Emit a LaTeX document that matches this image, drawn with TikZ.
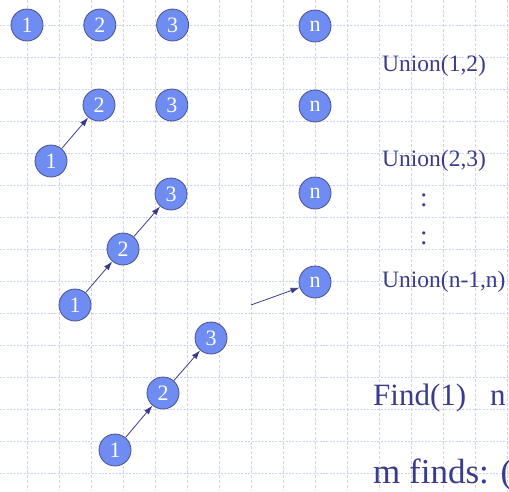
\documentclass[tikz,border=0pt]{standalone}
\usepackage{fontspec}
\setmainfont{Liberation Serif}
\usepackage{xcolor}
\usetikzlibrary{positioning, arrows.meta}

\definecolor{gridblue}{RGB}{200,212,246}
\definecolor{nodefill}{RGB}{110,140,242}
\definecolor{nodeedge}{RGB}{72,80,140}
\definecolor{textblue}{RGB}{58,60,138}

\begin{document}
\begin{tikzpicture}[
    x=1pt, y=-1pt,
    % Jarak antar node dalam satu baris
    node distance=40pt,
    % Gaya untuk elemen himpunan (lingkaran)
    elem/.style={
        draw=nodeedge,
        circle,
        line width=0.8pt,
        minimum size=32pt,
        inner sep=0pt,
        fill=nodefill,
        text=white,
        font=\fontsize{22}{22}\selectfont
    },
    % Gaya untuk teks operasi
    optext/.style={
        anchor=base west,
        inner sep=0pt,
        text=textblue,
        font=\fontsize{23.5}{23.5}\selectfont
    },
    bigtext/.style={
        optext,
        font=\fontsize{31}{31}\selectfont
    },
    % Gaya untuk garis bantu (grid)
    hgrid/.style={gridblue, line width=1pt, dash pattern=on 2pt off 1.4pt},
    vgrid/.style={gridblue, line width=0.9pt, dash pattern=on 3pt off 1.8pt},
    % Gaya untuk panah
    arrow/.style={
        -{Latex[length=9pt,width=6pt]},
        line width=0.8pt,
        draw=textblue
    }
]
\useasboundingbox (0,0) rectangle (509,491);
\clip (0,0) rectangle (509,491);

% =====================================================================
% GRID LATAR
% =====================================================================
\foreach \k in {0,...,14}
    \draw [hgrid] (0,25+32.07*\k) -- (509,25+32.07*\k);
\foreach \k in {0,...,15}
    \draw [vgrid] (27+32*\k,0) -- (27+32*\k,491);

% =====================================================================
% DEFINISI NODE / ELEMEN
% =====================================================================
% Baris 1: semua elemen terpisah
\node (a1) [elem] at (27,25) {1};
\node (a2) [elem, right=of a1] {2};
\node (a3) [elem, right=of a2] {3};
\node (an) [elem] at (315,26) {n};

% Baris 2: setelah Union(1,2)
\node (b2) [elem] at (99,105) {2};
\node (b3) [elem, right=of b2] {3};
\node (bn) [elem] at (315,106) {n};
\node (b1) [elem] at (51,161) {1};

% Baris 3: setelah Union(2,3)
\node (c3) [elem] at (171,194) {3};
\node (cn) [elem] at (315,193) {n};
\node (c2) [elem] at (123,249) {2};
\node (c1) [elem] at (75,305) {1};

% Baris 4: setelah Union(n-1,n)
\node (dn) [elem] at (315,282) {n};
\node (d3) [elem] at (211,338) {3};
\node (d2) [elem] at (163,393) {2};
\node (d1) [elem] at (115,450) {1};
\coordinate (dtail) at (251,305);

% =====================================================================
% TEKS OPERASI
% =====================================================================
\node (u12) [optext] at (382,71) {Union(1,2)};
\node (u23) [optext] at (382,166) {Union(2,3)};
\node (dot1) [optext, font=\fontsize{27}{27}\selectfont] at (420,206) {:};
\node (dot2) [optext, font=\fontsize{27}{27}\selectfont] at (420,244) {:};
\node (unn) [optext] at (382,287) {Union(n-1,n)};
\node (find) [bigtext] at (373,405) {Find(1)\hspace{24pt}n};
\node (mfind) [bigtext, font=\fontsize{35}{35}\selectfont] at (373,483) {m finds: (};

% =====================================================================
% KONEKSI PANAH / ALUR
% =====================================================================
\draw [arrow] (b1) -- (b2);
\draw [arrow] (c1) -- (c2);
\draw [arrow] (c2) -- (c3);
\draw [arrow] (d1) -- (d2);
\draw [arrow] (d2) -- (d3);
\draw [arrow] (dtail) -- (dn);

\end{tikzpicture}
\end{document}
